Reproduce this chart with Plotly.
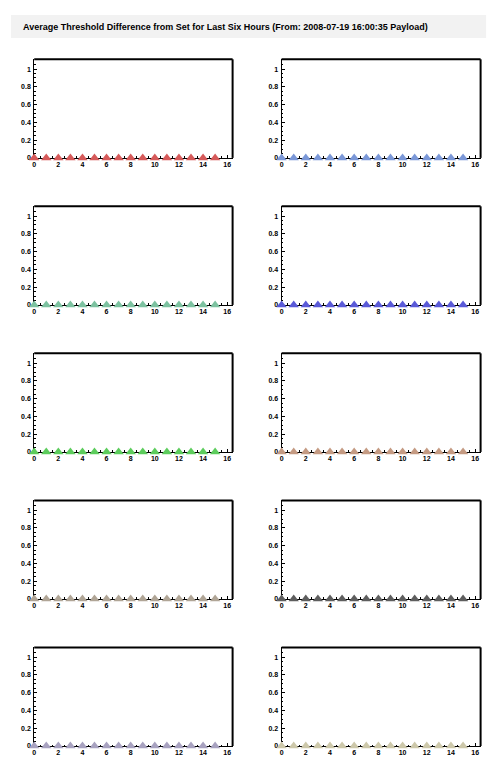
import plotly.graph_objects as go
from plotly.subplots import make_subplots

W, H = 496, 772
OFF = 8  # margen del body de la pagina html

titulo = "Average Threshold Difference from Set for Last Six Hours (From: 2008-07-19 16:00:35 Payload)"

canales = list(range(16))
valores = [
    [0.0] * 16,
    [0.0] * 16,
    [0.0] * 16,
    [0.0] * 16,
    [0.0] * 16,
    [0.0] * 16,
    [0.0] * 16,
    [0.0] * 16,
    [0.0] * 16,
    [0.0] * 16,
]
colores = ["#d65a5a", "#7b98d8", "#7cc2a0", "#5a5ad8", "#5ccc5c",
           "#c49a82", "#b0a596", "#5e5e5e", "#a8a2c0", "#cdc8aa"]

fig = make_subplots(rows=5, cols=2)

# posiciones de los marcos en pixeles (de la imagen)
izq = [32.3 - OFF, 280.7 - OFF]
der = [231.5 - OFF, 480.5 - OFF]
arriba0, abajo0, paso = 59.5 - OFF, 158.5 - OFF, 147.6

fuente = dict(family="Liberation Sans", size=7, color="black", weight="bold")

for k in range(10):
    fila = k // 2 + 1
    col = k % 2 + 1
    fig.add_trace(go.Scatter(x=canales, y=valores[k], mode="markers",
                             marker=dict(symbol="triangle-up", size=9, color=colores[k],
                                         line=dict(width=0)),
                             cliponaxis=False, showlegend=False),
                  row=fila, col=col)
    top = arriba0 + paso * (fila - 1)
    bot = abajo0 + paso * (fila - 1)
    n = "" if k == 0 else str(k + 1)
    fig.layout["xaxis" + n].update(
        domain=[izq[col - 1] / W, der[col - 1] / W], range=[0, 16.45],
        dtick=2, tick0=0, ticks="inside", ticklen=3, tickwidth=1, tickcolor="black",
        minor=dict(dtick=0.5, ticks="inside", ticklen=1.5, tickcolor="black"),
        showgrid=False, zeroline=False, showline=True, linecolor="black", linewidth=1,
        tickfont=fuente, ticklabelstandoff=0, fixedrange=True, layer="below traces")
    fig.layout["yaxis" + n].update(
        domain=[1 - bot / H, 1 - top / H], range=[0, 1.11],
        dtick=0.2, tick0=0, ticks="inside", ticklen=3, tickwidth=1, tickcolor="black",
        minor=dict(dtick=0.05, ticks="inside", ticklen=1.5, tickcolor="black"),
        showgrid=False, zeroline=False, showline=True, linecolor="black", linewidth=1,
        tickfont=fuente, ticklabelstandoff=1, fixedrange=True, layer="below traces")
    # bordes superior y derecho del marco, mas gruesos
    xr = "x" + n + " domain"
    yr = "y" + n + " domain"
    fig.add_shape(type="line", xref=xr, yref=yr, x0=0, x1=1, y0=1, y1=1,
                  line=dict(color="black", width=2))
    fig.add_shape(type="line", xref=xr, yref=yr, x0=1, x1=1, y0=0, y1=1,
                  line=dict(color="black", width=2))

# caja gris del titulo
fig.add_shape(type="rect", xref="paper", yref="paper",
              x0=(9 - OFF) / W, x1=(486 - OFF) / W, y0=1 - (38 - OFF) / H, y1=1 - (15 - OFF) / H,
              fillcolor="#f2f2f2", line=dict(width=0), layer="below")
fig.add_annotation(text="<b>" + titulo + "</b>", xref="paper", yref="paper",
                   x=(19 - OFF) / W, y=1 - (27 - OFF) / H, xanchor="left", yanchor="middle",
                   showarrow=False, font=dict(family="Liberation Sans", size=9, color="black"))

fig.update_layout(width=W, height=H, margin=dict(l=0, r=0, t=0, b=0),
                  paper_bgcolor="white", plot_bgcolor="white")

fig.write_html("out.html")
